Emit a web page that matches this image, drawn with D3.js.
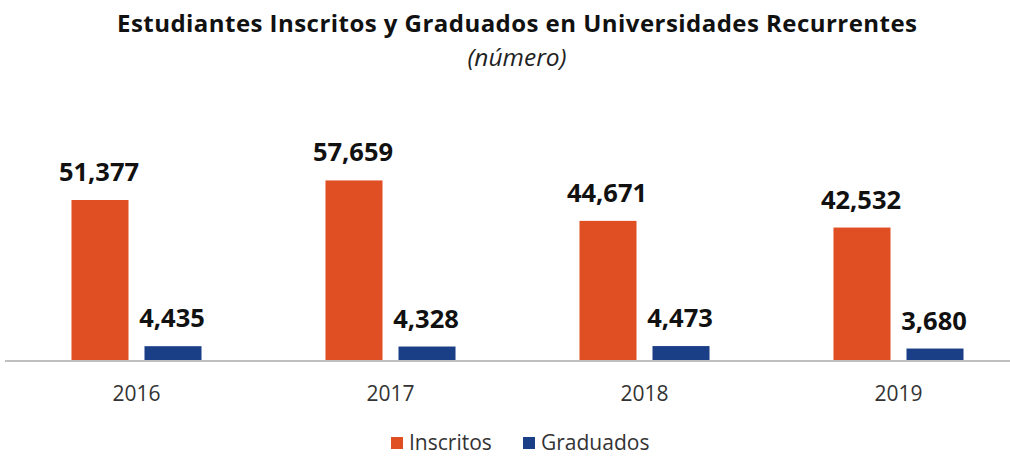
<!DOCTYPE html>
<html><head><meta charset="utf-8">
<script src="https://cdn.jsdelivr.net/npm/d3@7"></script>
<style>body{margin:0;background:#fff}svg{display:block}</style>
</head><body>
<svg id="c" width="1010" height="457"></svg>
<script>
const years = ["2016","2017","2018","2019"];
const series = ["Inscritos","Graduados"];
const inscritos = [51377,57659,44671,42532];
const graduados = [4435,4328,4473,3680];
const colors = ["#E04E23","#1A3F86"];

const svg = d3.select("#c");
const baseY = 360, font = "'Open Sans', sans-serif";
const x0 = d3.scaleBand().domain(years).range([9.5,1025.5]).paddingInner(0).paddingOuter(0);
const x1 = d3.scaleBand().domain(series).range([0,x0.bandwidth()]).paddingInner(0.219).paddingOuter(0.849);
const y = d3.scaleLinear().domain([0,51377]).range([baseY,200]);

svg.append("text").attr("x",517).attr("y",32).attr("text-anchor","middle")
  .attr("font-family",font).attr("font-weight",700).attr("font-size",24).attr("fill","#111")
  .attr("textLength",800).attr("lengthAdjust","spacing")
  .text("Estudiantes Inscritos y Graduados en Universidades Recurrentes");
svg.append("text").attr("x",517).attr("y",66).attr("text-anchor","middle")
  .attr("font-family",font).attr("font-style","italic").attr("font-size",24.5).attr("fill","#222")
  .text("(número)");

const data = years.map((yr,i)=>({yr, vals:[inscritos[i],graduados[i]]}));
const g = svg.selectAll("g.grp").data(data).join("g").attr("transform",d=>`translate(${x0(d.yr)},0)`);
g.selectAll("rect").data(d=>d.vals.map((v,j)=>({s:series[j],v,j}))).join("rect")
  .attr("x",d=>x1(d.s)).attr("width",x1.bandwidth())
  .attr("y",d=>y(d.v)).attr("height",d=>baseY-y(d.v)).attr("fill",d=>colors[d.j]);
g.selectAll("text.v").data(d=>d.vals.map((v,j)=>({s:series[j],v,j}))).join("text")
  .attr("class","v").attr("x",d=>x1(d.s)+x1.bandwidth()/2-1).attr("y",d=>y(d.v)-19)
  .attr("text-anchor","middle").attr("font-family",font).attr("font-weight",700)
  .attr("font-size",25.5).attr("fill","#111").text(d=>d3.format(",")(d.v));

svg.append("line").attr("x1",5).attr("x2",1010).attr("y1",baseY+1).attr("y2",baseY+1)
  .attr("stroke","#bfbfbf").attr("stroke-width",2);

const ax = svg.append("g").attr("transform",`translate(0,${baseY})`)
  .call(d3.axisBottom(x0).tickSize(0).tickPadding(26));
ax.select(".domain").remove();
ax.selectAll("text").attr("font-family",font).attr("font-size",21).attr("fill","#333");

const leg = svg.append("g");
const lx = [391,523], lt = [409,541];
series.forEach((s,i)=>{
  leg.append("rect").attr("x",lx[i]).attr("y",437).attr("width",12).attr("height",12).attr("fill",colors[i]);
  leg.append("text").attr("x",lt[i]).attr("y",450).attr("font-family",font).attr("font-size",21)
    .attr("fill","#333").text(s);
});
</script>
</body></html>
